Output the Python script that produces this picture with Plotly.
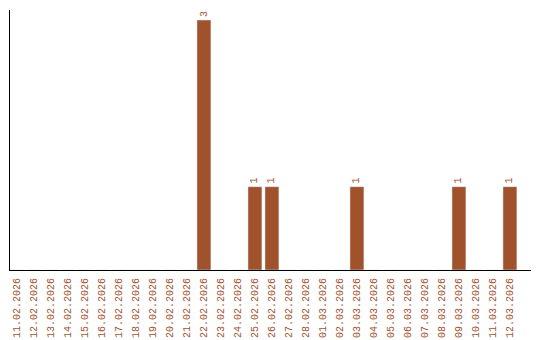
import plotly.graph_objects as go

dates = ["11.02.2026", "12.02.2026", "13.02.2026", "14.02.2026", "15.02.2026",
         "16.02.2026", "17.02.2026", "18.02.2026", "19.02.2026", "20.02.2026",
         "21.02.2026", "22.02.2026", "23.02.2026", "24.02.2026", "25.02.2026",
         "26.02.2026", "27.02.2026", "28.02.2026", "01.03.2026", "02.03.2026",
         "03.03.2026", "04.03.2026", "05.03.2026", "06.03.2026", "07.03.2026",
         "08.03.2026", "09.03.2026", "10.03.2026", "11.03.2026", "12.03.2026"]
counts = [0, 0, 0, 0, 0, 0, 0, 0, 0, 0,
          0, 3, 0, 0, 1, 1, 0, 0, 0, 0,
          1, 0, 0, 0, 0, 0, 1, 0, 0, 1]

COLOR = "#A0522D"
FONT = "Liberation Mono"

fig = go.Figure()
fig.add_trace(go.Bar(x=dates, y=counts, marker_color=COLOR, width=0.82,
                     hoverinfo="x+y"))

for d, c in zip(dates, counts):
    if c > 0:
        fig.add_annotation(x=d, y=c, text=str(c), textangle=-90, showarrow=False,
                           xanchor="center", yanchor="bottom", yshift=1,
                           font=dict(family=FONT, size=10, color=COLOR))

fig.update_layout(
    width=540, height=340,
    margin=dict(l=10, r=9, t=10, b=70, autoexpand=False),
    paper_bgcolor="white", plot_bgcolor="white",
    showlegend=False,
    xaxis=dict(type="category", range=[-0.41, 30.24], showline=True,
               linecolor="black", linewidth=1, showgrid=False, ticks="",
               tickangle=-90, tickfont=dict(family=FONT, size=10, color=COLOR),
               ticklabelstandoff=3, zeroline=False, fixedrange=True,
               automargin=False),
    yaxis=dict(range=[0, 3.12], showline=True, linecolor="black", linewidth=1,
               showgrid=False, showticklabels=False, ticks="", zeroline=False,
               fixedrange=True, automargin=False),
)

fig.write_html("out.html")
